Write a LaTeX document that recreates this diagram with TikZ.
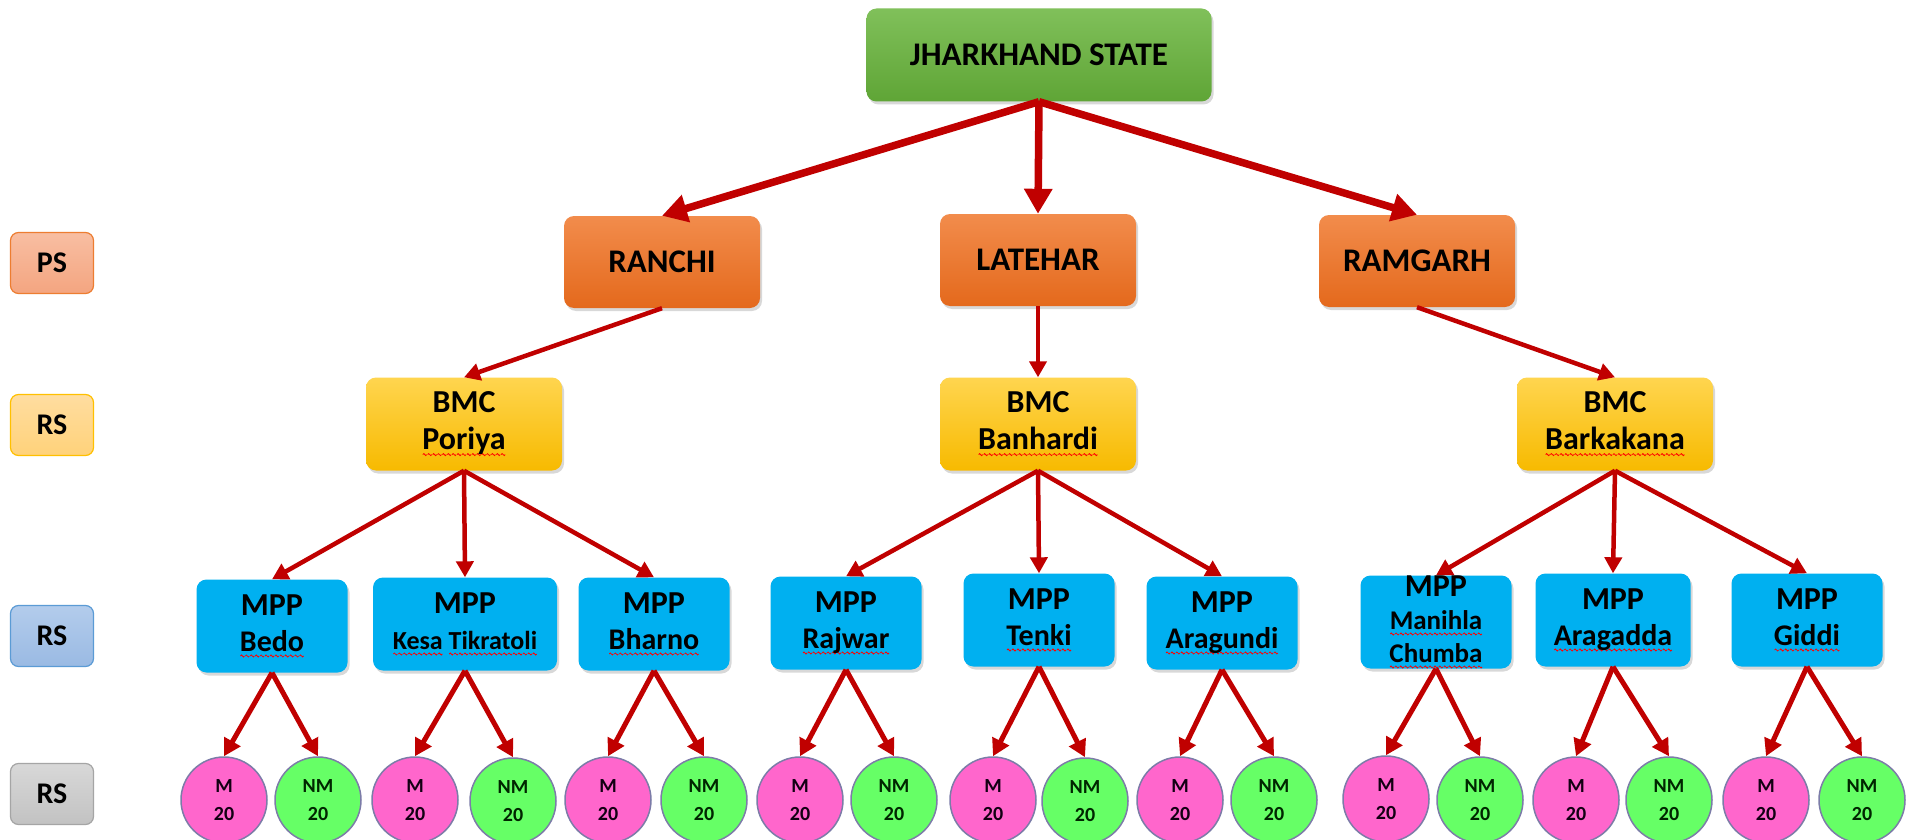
\documentclass[tikz,border=0pt]{standalone}
\usepackage{fontspec}
\setmainfont{Carlito}
\usetikzlibrary{arrows.meta,shadows}
\definecolor{arrowred}{HTML}{C00000}
\definecolor{grnT}{HTML}{80C05A}
\definecolor{grnB}{HTML}{5FA536}
\definecolor{orT}{HTML}{F28C4C}
\definecolor{orB}{HTML}{E4691C}
\definecolor{yeT}{HTML}{FFD54F}
\definecolor{yeB}{HTML}{F7BA00}
\definecolor{mppblue}{HTML}{00B0F0}
\definecolor{mpink}{HTML}{FF66CC}
\definecolor{nmgreen}{HTML}{66FF66}
\definecolor{circbd}{HTML}{7C7CA8}
\definecolor{lpsT}{HTML}{F8BEA2}
\definecolor{lpsB}{HTML}{F4A580}
\definecolor{lpsD}{HTML}{ED7D31}
\definecolor{lyeT}{HTML}{FFDDA0}
\definecolor{lyeB}{HTML}{FFD27A}
\definecolor{lyeD}{HTML}{FFC000}
\definecolor{lblT}{HTML}{B3CCEC}
\definecolor{lblB}{HTML}{9ABAE3}
\definecolor{lblD}{HTML}{5B9BD5}
\definecolor{lgrT}{HTML}{D8D8D8}
\definecolor{lgrB}{HTML}{C2C2C2}
\definecolor{lgrD}{HTML}{A5A5A5}
\newsavebox\wavebox
\newsavebox\wordbox
\newcommand\spl[1]{\sbox\wordbox{#1}\leavevmode\rlap{\raisebox{-6pt}{\hbox to \wd\wordbox{\xleaders\copy\wavebox\hfill}}}\usebox\wordbox}
\newcommand\fs[2]{\fontsize{#1}{#2}\selectfont}
\tikzset{
  boxbase/.style={rounded corners=10pt, align=center, font=\bfseries, inner sep=2pt,
    drop shadow={shadow xshift=2pt, shadow yshift=-3pt, opacity=0.3}},
  statebox/.style={boxbase, top color=grnT, bottom color=grnB, minimum width=345pt, minimum height=93pt, font=\bfseries\fs{33}{38}},
  distbox/.style={boxbase, top color=orT, bottom color=orB, minimum width=196pt, minimum height=92pt, font=\bfseries\fs{33}{38}},
  bmcbox/.style={boxbase, top color=yeT, bottom color=yeB, minimum width=196pt, minimum height=93pt, font=\bfseries\fs{32}{37}},
  mppbox/.style={boxbase, fill=mppblue, minimum width=151pt, minimum height=93pt, font=\bfseries\fs{32}{36}},
  legbox/.style={rounded corners=8pt, line width=1.2pt, minimum width=83pt, minimum height=61pt, font=\bfseries\fs{30}{34}},
  mcirc/.style={circle, draw=circbd, line width=1.5pt, fill=mpink, minimum size=86pt, inner sep=0pt, align=center, font=\bfseries\fs{20}{28}, text=black!85!violet},
  nmcirc/.style={mcirc, fill=nmgreen, text=black!85!green},
  bigarr/.style={draw=arrowred, line width=7.5pt, -{Triangle[length=25pt,width=27pt]}},
  arr/.style={draw=arrowred, line width=4.5pt, -{Triangle[length=16pt,width=17pt]}},
  smarr/.style={draw=arrowred, line width=5pt, -{Triangle[length=17pt,width=18pt]}}
}
\begin{document}
\sbox\wavebox{\pgfpicture\pgfsetlinewidth{0.8pt}\pgfsetstrokecolor{red}\pgfpathmoveto{\pgfpointorigin}\pgfpathsine{\pgfpoint{1pt}{1pt}}\pgfpathcosine{\pgfpoint{1pt}{-1pt}}\pgfpathsine{\pgfpoint{1pt}{-1pt}}\pgfpathcosine{\pgfpoint{1pt}{1pt}}\pgfusepath{stroke}\endpgfpicture}%
\begin{tikzpicture}[x=1pt,y=-1pt]
\fill[white] (0,0) rectangle (1923,840);
\useasboundingbox (0,0) rectangle (1923,840);

% legend
\node[legbox, top color=lpsT, bottom color=lpsB, draw=lpsD] (lps) at (52,263) {PS};
\node[legbox, top color=lyeT, bottom color=lyeB, draw=lyeD] (lrs1) at (52,425) {RS};
\node[legbox, top color=lblT, bottom color=lblB, draw=lblD] (lrs2) at (52,636) {RS};
\node[legbox, top color=lgrT, bottom color=lgrB, draw=lgrD] (lrs3) at (52,794) {RS};

% top
\node[statebox] (jh) at (1039,55) {JHARKHAND STATE};

% districts
\node[distbox] (ranchi) at (662,262) {RANCHI};
\node[distbox] (latehar) at (1038,260) {LATEHAR};
\node[distbox] (ramgarh) at (1417,261) {RAMGARH};

% BMC
\node[bmcbox] (poriya) at (464,424) {BMC\\\spl{Poriya}};
\node[bmcbox] (banhardi) at (1038,424) {BMC\\\spl{Banhardi}};
\node[bmcbox] (barkakana) at (1615,424) {BMC\\\spl{Barkakana}};

% MPP
\node[mppbox] (bedo) at (272,626) {MPP\\{\fs{30}{33}\spl{Bedo}}};
\node[mppbox, minimum width=184pt] (kesa) at (465,624) {MPP\\{\fs{26}{33}\spl{Kesa} \spl{Tikratoli}}};
\node[mppbox] (bharno) at (654,624) {MPP\\{\fs{30}{33}\spl{Bharno}}};
\node[mppbox] (rajwar) at (846,623) {MPP\\{\fs{30}{33}\spl{Rajwar}}};
\node[mppbox] (tenki) at (1039,620) {MPP\\{\fs{30}{33}\spl{Tenki}}};
\node[mppbox] (aragundi) at (1222,623) {MPP\\{\fs{30}{33}\spl{Aragundi}}};
\node[mppbox, inner ysep=0pt, font=\bfseries\fs{32}{33}] (manihla) at (1436,622) {MPP\\{\fs{27}{33}\spl{Manihla}}\\{\fs{27}{29}\spl{Chumba}}};
\node[mppbox, minimum width=155pt] (aragadda) at (1613,620) {MPP\\{\fs{30}{33}\spl{Aragadda}}};
\node[mppbox] (giddi) at (1807,620) {MPP\\{\fs{30}{33}\spl{Giddi}}};

% circles
\node[mcirc] (m1) at (224,800) {M\\20};
\node[nmcirc] (n1) at (318,800) {NM\\20};
\node[mcirc] (m2) at (415,800) {M\\20};
\node[nmcirc] (n2) at (513,801) {NM\\20};
\node[mcirc] (m3) at (608,800) {M\\20};
\node[nmcirc] (n3) at (704,800) {NM\\20};
\node[mcirc] (m4) at (800,800) {M\\20};
\node[nmcirc] (n4) at (894,800) {NM\\20};
\node[mcirc] (m5) at (993,800) {M\\20};
\node[nmcirc] (n5) at (1085,801) {NM\\20};
\node[mcirc] (m6) at (1180,800) {M\\20};
\node[nmcirc] (n6) at (1274,800) {NM\\20};
\node[mcirc] (m7) at (1386,799) {M\\20};
\node[nmcirc] (n7) at (1480,800) {NM\\20};
\node[mcirc] (m8) at (1576,800) {M\\20};
\node[nmcirc] (n8) at (1669,800) {NM\\20};
\node[mcirc] (m9) at (1766,800) {M\\20};
\node[nmcirc] (n9) at (1862,800) {NM\\20};

% arrows top
\draw[bigarr] (jh.south) -- (ranchi.north);
\draw[bigarr] (jh.south) -- (latehar.north);
\draw[bigarr] (jh.south) -- (ramgarh.north);

% districts to BMC
\draw[arr] (ranchi.south) -- (poriya.north);
\draw[arr] (latehar.south) -- (banhardi.north);
\draw[arr] (ramgarh.south) -- (barkakana.north);

% BMC to MPP
\foreach \s/\t in {poriya/bedo, poriya/kesa, poriya/bharno,
  banhardi/rajwar, banhardi/tenki, banhardi/aragundi,
  barkakana/manihla, barkakana/aragadda, barkakana/giddi}
  \draw[arr] (\s.south) -- (\t.north);

% MPP to circles
\foreach \s/\a/\b in {bedo/m1/n1, kesa/m2/n2, bharno/m3/n3, rajwar/m4/n4,
  tenki/m5/n5, aragundi/m6/n6, manihla/m7/n7, aragadda/m8/n8, giddi/m9/n9}{
  \draw[smarr] (\s.south) -- (\a.north);
  \draw[smarr] (\s.south) -- (\b.north);
}
\end{tikzpicture}
\end{document}
